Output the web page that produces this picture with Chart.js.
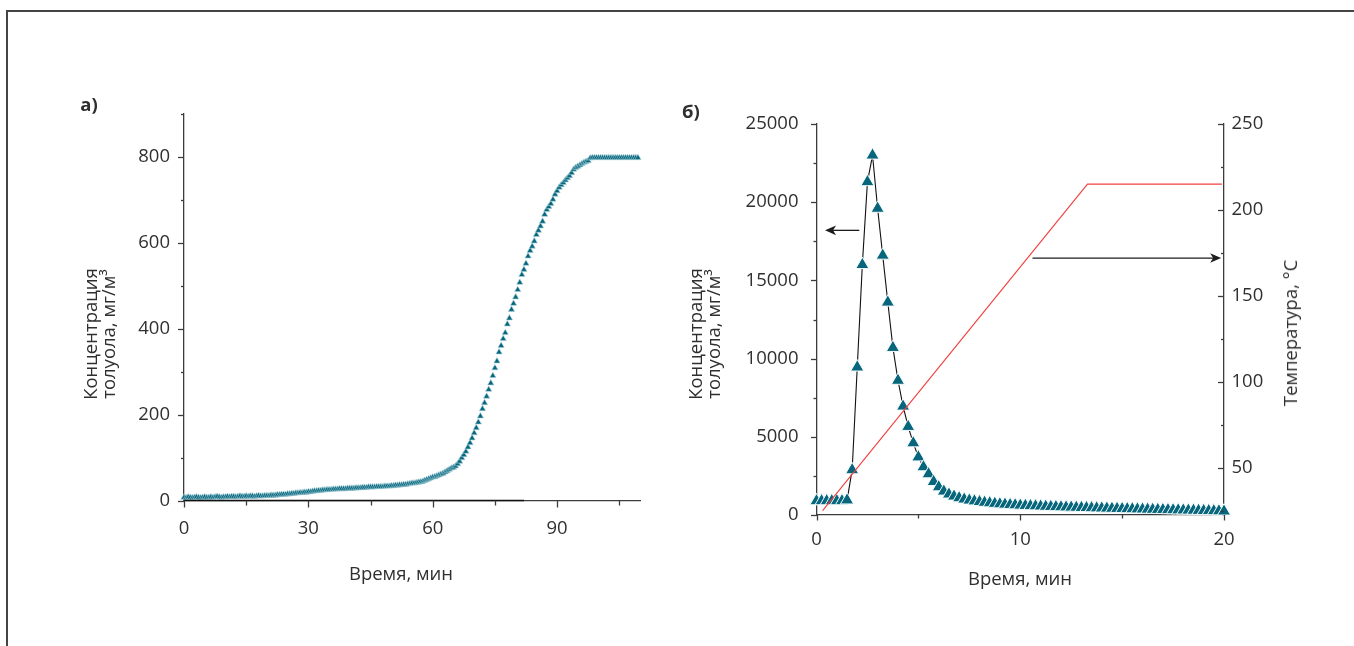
<!DOCTYPE html>
<html>
<head>
<meta charset="utf-8">
<script src="https://cdn.jsdelivr.net/npm/chart.js@4.4.1/dist/chart.umd.min.js"></script>
<style>
html,body{margin:0;padding:0;background:#fff;}
body{width:1354px;height:646px;position:relative;overflow:hidden;font-family:'Open Sans',sans-serif;color:#2f2f2f;}
#frame{position:absolute;left:6px;top:10px;width:1400px;height:700px;border-top:2px solid #444;border-left:2px solid #444;}
canvas{position:absolute;top:0;}
#cA{left:0;width:660px;height:646px;}
#cB{left:660px;width:694px;height:646px;}
.t{position:absolute;white-space:nowrap;font-size:18.5px;line-height:18px;transform:translate(-50%,-50%);}
.r{transform:translate(-50%,-50%) rotate(-90deg);text-align:center;}
.b{font-weight:700;}
</style>
</head>
<body>
<div id="frame"></div>
<canvas id="cA" width="660" height="646"></canvas>
<canvas id="cB" width="694" height="646"></canvas>
<div class="t b" style="left:89px;top:104px;">а)</div>
<div class="t b" style="left:691px;top:111px;">б)</div>
<div class="t" style="left:401px;top:573px;">Время, мин</div>
<div class="t" style="left:1020px;top:578px;">Время, мин</div>
<div class="t r" style="left:99px;top:334px;">Концентрация<br>толуола, мг/м³</div>
<div class="t r" style="left:704px;top:334px;">Концентрация<br>толуола, мг/м³</div>
<div class="t r" style="left:1290px;top:333px;">Температура, °C</div>
<script>
// ---------- DATA ----------
// Panel а): toluene concentration, mg/m3, sampled every 0.5 min from 0 min
const leftStep = 0.5;
const leftConc = [
  7,6,8,7,6,7,8,7,6,7,8,7,7,8,7,8,9,8,7,8,
  8,9,8,9,9,8,9,10,9,9,10,9,10,10,9,10,11,10,10,11,
  11,11,12,12,12,13,13,14,14,14,15,15,16,16,17,17,18,18,19,19,
  20,20,21,22,22,23,23,24,24,25,25,25,26,26,26,27,27,27,27,28,
  28,28,28,29,29,29,30,30,30,31,31,31,31,32,32,32,32,33,33,33,
  34,34,35,35,36,36,37,37,38,39,40,40,41,42,43,44,46,48,50,52,
  54,55,57,59,61,63,66,69,72,75,77,80,85,91,99,106,114,124,134,145,
  157,169,182,196,213,227,242,258,273,290,308,324,345,360,376,390,410,424,444,458,
  473,490,507,525,537,551,568,581,591,603,618,628,638,649,665,676,683,690,700,712,
  720,728,734,739,745,750,755,762,770,774,777,780,783,786,788,790,796,797,797,797,
  797,797,797,797,797,797,797,797,797,797,797,797,797,797,797,797,797,797,797,797
];
const leftBaseT = [0, 82];
const leftBaseV = [0, 0];
const leftXMajor = [0, 30, 60, 90];
const leftXMinor = [15, 45, 75, 105];
const leftYMajor = [0, 200, 400, 600, 800];
const leftYMinor = [100, 300, 500, 700, 900];

// Panel б): toluene concentration, mg/m3, sampled every 0.25 min from 0 min
const rightStep = 0.25;
const rightConc = [
  900,900,900,900,900,900,950,2880,9450,16000,
  21300,23000,19600,16600,13600,10700,8600,6950,5650,4600,
  3700,3070,2620,2130,1790,1515,1325,1195,1090,1005,
  940,890,845,800,765,730,700,680,655,635,
  615,600,585,572,558,545,532,522,510,500,
  490,480,470,462,452,442,432,424,414,405,
  397,390,382,374,366,358,350,342,334,327,
  320,312,304,297,290,282,275,268,260,252,
  240
];
// temperature programme, °C
const tempT = [0.3, 13.3, 19.9];
const tempV = [25, 215, 215];
const rightXMajor = [0, 10, 20];
const rightXMinor = [5, 15];
const concYMajor = [0, 5000, 10000, 15000, 20000, 25000];
const concYMinor = [2500, 7500, 12500, 17500, 22500];
const tempYMajor = [50, 100, 150, 200, 250];
const tempYMinor = [25, 75, 125, 175, 225];
// annotation arrows (data units: [time, value])
const arrowConc = {from: [2.1, 18200], to: [0.42, 18200]};
const arrowTemp = {from: [10.6, 172], to: [19.86, 172]};

// ---------- STYLE ----------
const TEAL = '#07667c';
const AXIS = '#3c3c3c';
const TXT = '#303030';
const FONT = {family: "'Open Sans', sans-serif", size: 18.5};
Chart.defaults.font.family = "'Open Sans', sans-serif";

const tickMarks = {
  id: 'tickMarks',
  afterDraw(chart, args, opts) {
    const ctx = chart.ctx, ca = chart.chartArea;
    ctx.save();
    ctx.strokeStyle = AXIS;
    ctx.lineWidth = 1.3;
    opts.specs.forEach(sp => {
      const s = chart.scales[sp.scale];
      const one = (v, len) => {
        const p = Math.round(s.getPixelForValue(v)) + 0.5;
        ctx.beginPath();
        if (sp.side === 'bottom') { ctx.moveTo(p, ca.bottom); ctx.lineTo(p, ca.bottom + len); }
        else if (sp.side === 'left') { ctx.moveTo(ca.left, p); ctx.lineTo(ca.left - len, p); }
        else { ctx.moveTo(ca.right, p); ctx.lineTo(ca.right - len, p); }
        ctx.stroke();
      };
      sp.major.forEach(v => one(v, sp.majorLen));
      sp.minor.forEach(v => one(v, sp.minorLen));
    });
    ctx.restore();
  }
};

const arrows = {
  id: 'arrows',
  afterDatasetsDraw(chart, args, opts) {
    const ctx = chart.ctx;
    ctx.save();
    ctx.strokeStyle = '#1c1c1c';
    ctx.fillStyle = '#1c1c1c';
    ctx.lineWidth = 1.3;
    opts.list.forEach(a => {
      const xs = chart.scales.x, ys = chart.scales[a.axis];
      const x1 = xs.getPixelForValue(a.from[0]), y1 = ys.getPixelForValue(a.from[1]);
      const x2 = xs.getPixelForValue(a.to[0]), y2 = ys.getPixelForValue(a.to[1]);
      const ang = Math.atan2(y2 - y1, x2 - x1);
      const L = 11, W = 4.8, N = 3;
      const bx = x2 - L * Math.cos(ang), by = y2 - L * Math.sin(ang);
      ctx.beginPath();
      ctx.moveTo(x1, y1);
      ctx.lineTo(x2 - (L - N) * Math.cos(ang), y2 - (L - N) * Math.sin(ang));
      ctx.stroke();
      ctx.beginPath();
      ctx.moveTo(x2, y2);
      ctx.lineTo(bx - W * Math.sin(ang), by + W * Math.cos(ang));
      ctx.lineTo(x2 - (L - N) * Math.cos(ang), y2 - (L - N) * Math.sin(ang));
      ctx.lineTo(bx + W * Math.sin(ang), by - W * Math.cos(ang));
      ctx.closePath();
      ctx.fill();
    });
    ctx.restore();
  }
};

function setTicks(list) { return s => { s.ticks = list.map(v => ({value: v})); }; }
function axisCommon(pad) {
  return {
    grid: {display: false, drawTicks: false},
    border: {display: true, color: AXIS, width: 1.3},
    ticks: {padding: pad, font: FONT, color: TXT, maxRotation: 0, autoSkip: false, callback: v => String(v)}
  };
}

// ---------- PANEL а) ----------
new Chart(document.getElementById('cA'), {
  type: 'scatter',
  data: {
    datasets: [
      {
        label: 'base',
        data: leftBaseT.map((t, i) => ({x: t, y: leftBaseV[i]})),
        showLine: true, borderColor: '#111', borderWidth: 1.6, pointRadius: 0, order: 0, clip: false
      },
      {
        label: 'Концентрация толуола',
        data: leftConc.map((v, i) => ({x: i * leftStep, y: v})),
        showLine: false, pointStyle: 'triangle', pointRadius: 3.6,
        backgroundColor: TEAL, borderColor: '#a9d2dc', borderWidth: 0.6, order: 1, clip: false
      }
    ]
  },
  options: {
    responsive: false, animation: false, events: [],
    layout: {padding: {top: 113.5, right: 20, left: 0, bottom: 0}},
    plugins: {
      legend: {display: false}, tooltip: {enabled: false},
      tickMarks: {specs: [
        {scale: 'x', side: 'bottom', major: leftXMajor, minor: leftXMinor, majorLen: 7, minorLen: 5},
        {scale: 'y', side: 'left', major: leftYMajor, minor: leftYMinor, majorLen: 6, minorLen: 3}
      ]}
    },
    scales: {
      x: Object.assign(axisCommon(17), {type: 'linear', min: 0, max: 110,
        afterBuildTicks: setTicks(leftXMajor), afterFit: s => { s.height = 145.5; }}),
      y: Object.assign(axisCommon(14), {type: 'linear', min: 0, max: 900,
        afterBuildTicks: setTicks(leftYMajor), afterFit: s => { s.width = 184; }})
    }
  },
  plugins: [tickMarks]
});

// ---------- PANEL б) ----------
new Chart(document.getElementById('cB'), {
  type: 'scatter',
  data: {
    datasets: [
      {
        label: 'Температура',
        yAxisID: 'yT',
        data: tempT.map((t, i) => ({x: t, y: tempV[i]})),
        showLine: true, borderColor: '#f2403f', borderWidth: 1.1, pointRadius: 0, order: 0, clip: false
      },
      {
        label: 'Концентрация толуола',
        yAxisID: 'yC',
        data: rightConc.map((v, i) => ({x: i * rightStep, y: v})),
        showLine: true, borderColor: '#111', borderWidth: 1.1,
        pointStyle: 'triangle', pointRadius: 7.6,
        pointBackgroundColor: TEAL, pointBorderColor: '#f4fbfc', pointBorderWidth: 1,
        backgroundColor: TEAL, order: 1, clip: false
      }
    ]
  },
  options: {
    responsive: false, animation: false, events: [],
    layout: {padding: {top: 124, right: 0, left: 0, bottom: 0}},
    plugins: {
      legend: {display: false}, tooltip: {enabled: false},
      tickMarks: {specs: [
        {scale: 'x', side: 'bottom', major: rightXMajor, minor: rightXMinor, majorLen: 5.5, minorLen: 3.5},
        {scale: 'yC', side: 'left', major: concYMajor, minor: concYMinor, majorLen: 5.5, minorLen: 3},
        {scale: 'yT', side: 'right', major: tempYMajor, minor: tempYMinor, majorLen: 6, minorLen: 3}
      ]},
      arrows: {list: [
        {axis: 'yC', from: arrowConc.from, to: arrowConc.to},
        {axis: 'yT', from: arrowTemp.from, to: arrowTemp.to}
      ]}
    },
    scales: {
      x: Object.assign(axisCommon(14), {type: 'linear', min: 0, max: 20,
        afterBuildTicks: setTicks(rightXMajor), afterFit: s => { s.height = 131; }}),
      yC: Object.assign(axisCommon(18), {type: 'linear', position: 'left', min: 0, max: 25000,
        afterBuildTicks: setTicks(concYMajor), afterFit: s => { s.width = 156.5; }}),
      yT: Object.assign(axisCommon(7.5), {type: 'linear', position: 'right', min: 22.5, max: 250,
        afterBuildTicks: setTicks(tempYMajor), afterFit: s => { s.width = 130; }})
    }
  },
  plugins: [tickMarks, arrows]
});
</script>
</body>
</html>
